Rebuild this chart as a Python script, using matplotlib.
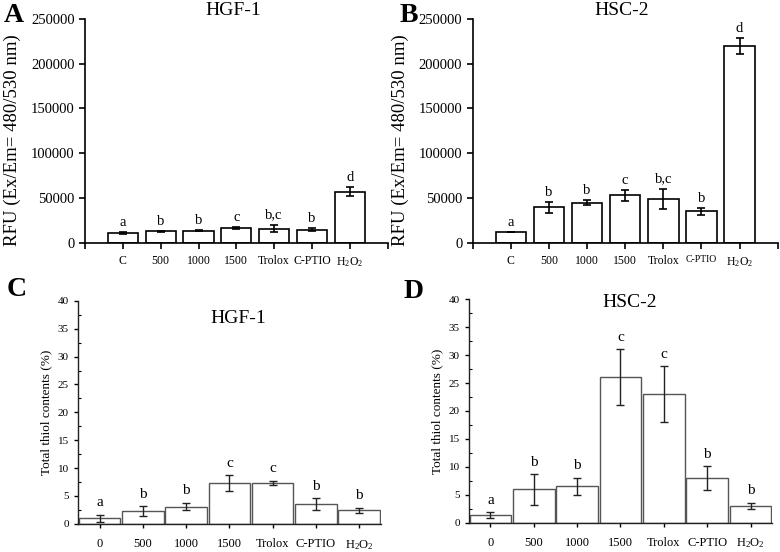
import matplotlib
matplotlib.use("Agg")
import matplotlib.pyplot as plt
import numpy as np
from matplotlib.ticker import MultipleLocator

plt.rcParams['font.family'] = ['Liberation Serif', 'DejaVu Serif']
plt.rcParams['mathtext.fontset'] = 'custom'
plt.rcParams['mathtext.rm'] = 'Liberation Serif'
plt.rcParams['mathtext.default'] = 'regular'

# ROS (RFU) panels
rfu_groups = ["C", "500", "1000", "1500", "Trolox", "C-PTIO", "H$_2$O$_2$"]
hgf_rfu = [11000, 13000, 13700, 16500, 16000, 14800, 57200]
hgf_rfu_err = [800, 600, 600, 1000, 4200, 2000, 5000]
hgf_rfu_sig = ["a", "b", "b", "c", "b,c", "b", "d"]
hsc_rfu = [12000, 39800, 44700, 53000, 48800, 35200, 219800]
hsc_rfu_err = [400, 6000, 2800, 6200, 11500, 3600, 9000]
hsc_rfu_sig = ["a", "b", "b", "c", "b,c", "b", "d"]

# thiol panels
thiol_groups = ["0", "500", "1000", "1500", "Trolox", "C-PTIO", "H$_2$O$_2$"]
hgf_thiol = [1.0, 2.3, 3.1, 7.3, 7.3, 3.5, 2.4]
hgf_thiol_err = [0.6, 0.85, 0.65, 1.4, 0.4, 1.1, 0.5]
hgf_thiol_sig = ["a", "b", "b", "c", "c", "b", "b"]
hsc_thiol = [1.4, 5.95, 6.5, 26.0, 23.0, 8.0, 3.0]
hsc_thiol_err = [0.5, 2.7, 1.55, 5.0, 5.0, 2.1, 0.6]
hsc_thiol_sig = ["a", "b", "b", "c", "c", "b", "b"]

W, H = 780, 552
fig = plt.figure(figsize=(W / 100, H / 100), dpi=100)


def rfu_panel(rect, vals, errs, sig, title, small_cptio=False):
    ax = fig.add_axes(rect)
    x = np.arange(1, len(vals) + 1)
    ax.bar(x, vals, width=0.8, color="white", edgecolor="black", linewidth=1.2)
    ax.errorbar(x, vals, yerr=errs, fmt="none", ecolor="black", elinewidth=1.2,
                capsize=3, capthick=1.2)
    for xi, v, e, s in zip(x, vals, errs, sig):
        ax.text(xi, v + e + 3500, s, ha="center", va="bottom", fontsize=10.5)
    ax.set_xlim(0, 8)
    ax.set_ylim(0, 250000)
    ax.set_xticks(range(0, 9))
    ax.set_xticklabels([""] + rfu_groups + [""], fontsize=8.5)
    if small_cptio:
        ax.get_xticklabels()[6].set_fontsize(7)
    ax.yaxis.set_major_locator(MultipleLocator(50000))
    ax.tick_params(axis="y", labelsize=10.5, length=4, width=1.2)
    ax.tick_params(axis="x", length=4, width=1.2, pad=5)
    for sp in ["top", "right"]:
        ax.spines[sp].set_visible(False)
    for sp in ["left", "bottom"]:
        ax.spines[sp].set_linewidth(1.2)
    ax.set_ylabel("RFU (Ex/Em= 480/530 nm)", fontsize=13.5)
    ax.yaxis.set_label_coords(-0.21, 0.46)
    ax.text(0.49, 1.0, title, transform=ax.transAxes, ha="center", va="bottom",
            fontsize=14)
    return ax


def thiol_panel(rect, vals, errs, sig, title, title_y):
    ax = fig.add_axes(rect)
    x = np.arange(len(vals))
    ax.bar(x, vals, width=0.96, color="white", edgecolor="#555555", linewidth=1.0)
    ax.errorbar(x, vals, yerr=errs, fmt="none", ecolor="#222222", elinewidth=1.0,
                capsize=3, capthick=1.0)
    for xi, v, e, s in zip(x, vals, errs, sig):
        ax.text(xi, v + e + 1.0, s, ha="center", va="bottom", fontsize=11)
    ax.set_xlim(-0.5, 6.5)
    ax.set_ylim(0, 40)
    ax.set_xticks(x)
    ax.set_xticklabels(thiol_groups, fontsize=9)
    ax.yaxis.set_major_locator(MultipleLocator(5))
    ax.yaxis.set_minor_locator(MultipleLocator(2.5))
    ax.tick_params(axis="y", which="major", labelsize=8, length=3, width=1.0)
    ax.tick_params(axis="y", which="minor", direction="in", length=2, width=0.8)
    ax.tick_params(axis="x", length=3, width=1.0, pad=7)
    for sp in ["top", "right"]:
        ax.spines[sp].set_visible(False)
    for sp in ["left", "bottom"]:
        ax.spines[sp].set_linewidth(1.0)
        ax.spines[sp].set_color("#222222")
    ax.set_ylabel("Total thiol contents (%)", fontsize=9.5, labelpad=4)
    ax.text(0.53, title_y, title, transform=ax.transAxes, ha="center", va="center",
            fontsize=14)
    return ax


rfu_panel([0.109, 0.560, 0.388, 0.406], hgf_rfu, hgf_rfu_err, hgf_rfu_sig, "HGF-1")
rfu_panel([0.606, 0.560, 0.391, 0.406], hsc_rfu, hsc_rfu_err, hsc_rfu_sig, "HSC-2",
          small_cptio=True)
thiol_panel([0.100, 0.051, 0.388, 0.404], hgf_thiol, hgf_thiol_err, hgf_thiol_sig,
            "HGF-1", 0.92)
thiol_panel([0.601, 0.053, 0.389, 0.405], hsc_thiol, hsc_thiol_err, hsc_thiol_sig,
            "HSC-2", 0.985)

# panel letters (pixel centres from the reference)
for lab, px, py in [("A", 14, 16), ("B", 409, 16), ("C", 17, 289), ("D", 414, 292)]:
    fig.text(px / W, 1 - py / H, lab, ha="center", va="center",
             fontsize=20, fontweight="bold")

fig.savefig("out.png", dpi=100)
